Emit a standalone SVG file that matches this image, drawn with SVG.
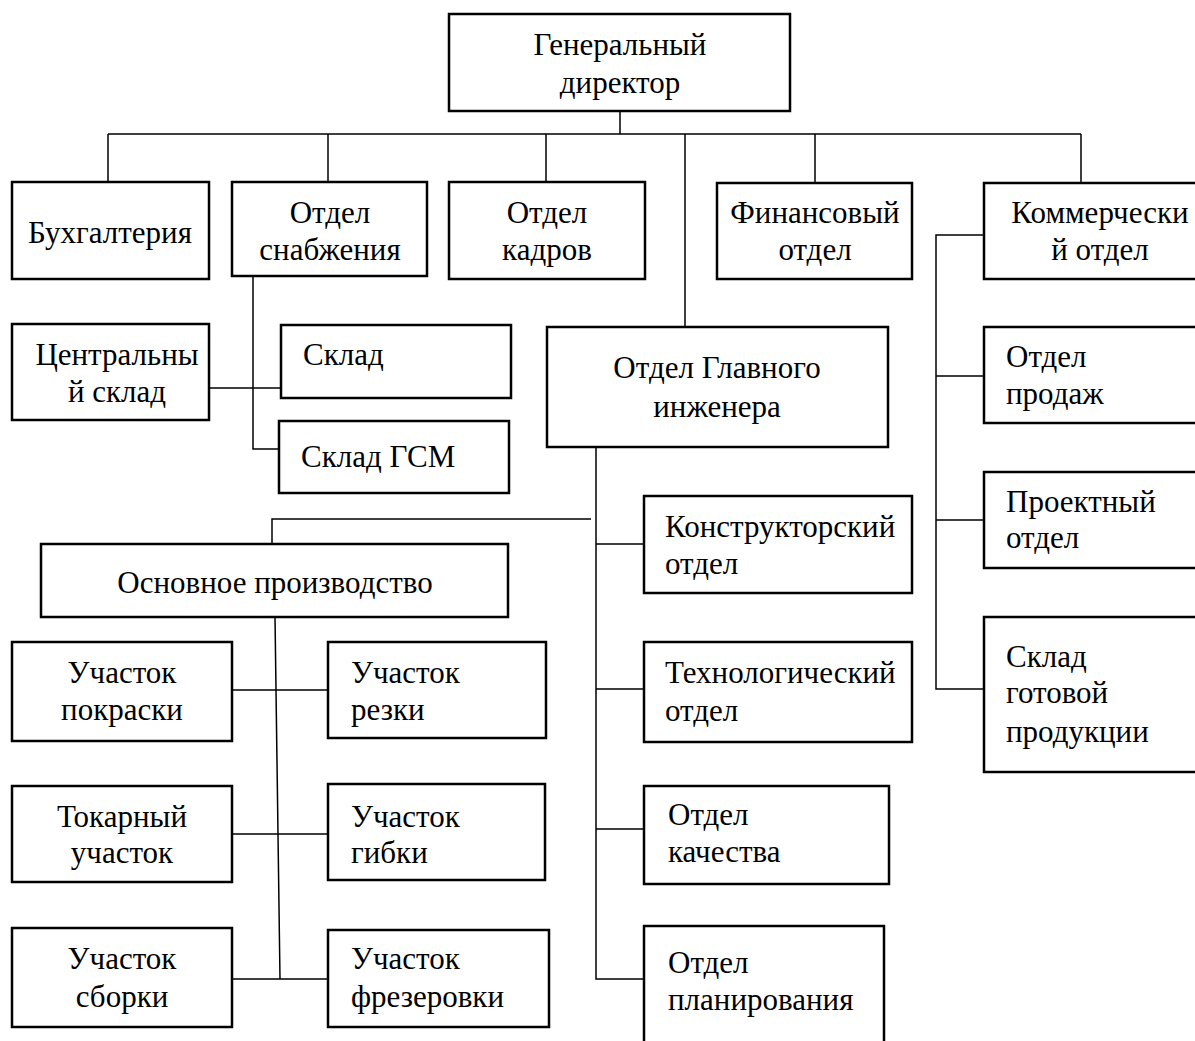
<svg xmlns="http://www.w3.org/2000/svg" width="1195" height="1041" viewBox="0 0 1195 1041">
<style>
.b{fill:#fff;stroke:#000;stroke-width:2.5}
.c{fill:none;stroke:#000;stroke-width:1.5}
text{font-family:"Liberation Serif","Times New Roman",serif;font-size:31px;fill:#000}
.m{text-anchor:middle}
</style>
<rect width="1195" height="1041" fill="#fff"/>
<g id="connectors" class="c">
<path d="M620 111V134M108 134H1081M108 134V182M328 134V182M546 134V182M685 134V327M815 134V183M1081 134V183"/>
<path d="M253 276V449H279M209 388H281"/>
<path d="M591 519H272V544"/>
<path d="M275 617L280 979M232 690H328M232 834H328M232 979H328"/>
<path d="M596 447V979H644M596 544H644M596 689H644M596 829H644"/>
<path d="M984 235H936V689H984M936 376H984M936 520H984"/>
</g>
<g id="gd"><rect class="b" x="449" y="14" width="341" height="97"/><text class="m" x="620" y="55">Генеральный</text><text class="m" x="620" y="93">директор</text></g>
<g id="buh"><rect class="b" x="12" y="182" width="197" height="97"/><text class="m" x="110" y="243">Бухгалтерия</text></g>
<g id="snab"><rect class="b" x="232" y="182" width="195" height="94"/><text class="m" x="330" y="223">Отдел</text><text class="m" x="330" y="260">снабжения</text></g>
<g id="kadry"><rect class="b" x="449" y="182" width="196" height="97"/><text class="m" x="547" y="223">Отдел</text><text class="m" x="547" y="260">кадров</text></g>
<g id="fin"><rect class="b" x="717" y="183" width="195" height="96"/><text class="m" x="815" y="223">Финансовый</text><text class="m" x="815" y="260">отдел</text></g>
<g id="komm"><rect class="b" x="984" y="183" width="230" height="96"/><text class="m" x="1100" y="223">Коммерчески</text><text class="m" x="1100" y="260">й отдел</text></g>
<g id="centr"><rect class="b" x="12" y="324" width="197" height="96"/><text class="m" x="117" y="365">Центральны</text><text class="m" x="117" y="402">й склад</text></g>
<g id="sklad"><rect class="b" x="281" y="325" width="230" height="73"/><text x="303" y="365">Склад</text></g>
<g id="gsm"><rect class="b" x="279" y="421" width="230" height="72"/><text x="301" y="467">Склад ГСМ</text></g>
<g id="gi"><rect class="b" x="547" y="327" width="341" height="120"/><text class="m" x="717" y="378">Отдел Главного</text><text class="m" x="717" y="417">инженера</text></g>
<g id="osn"><rect class="b" x="41" y="544" width="467" height="73"/><text class="m" x="275" y="593">Основное производство</text></g>
<g id="konstr"><rect class="b" x="644" y="496" width="268" height="97"/><text x="665" y="537">Конструкторский</text><text x="665" y="574">отдел</text></g>
<g id="tehn"><rect class="b" x="644" y="642" width="268" height="100"/><text x="665" y="683">Технологический</text><text x="665" y="721">отдел</text></g>
<g id="kach"><rect class="b" x="644" y="786" width="245" height="98"/><text x="668" y="825">Отдел</text><text x="668" y="862">качества</text></g>
<g id="plan"><rect class="b" x="644" y="926" width="240" height="130"/><text x="668" y="973">Отдел</text><text x="668" y="1010">планирования</text></g>
<g id="prod"><rect class="b" x="984" y="327" width="230" height="96"/><text x="1006" y="367">Отдел</text><text x="1006" y="404">продаж</text></g>
<g id="proekt"><rect class="b" x="984" y="472" width="230" height="96"/><text x="1006" y="512">Проектный</text><text x="1006" y="548">отдел</text></g>
<g id="gotov"><rect class="b" x="984" y="617" width="230" height="155"/><text x="1006" y="667">Склад</text><text x="1006" y="703">готовой</text><text x="1006" y="742">продукции</text></g>
<g id="pokr"><rect class="b" x="12" y="642" width="220" height="99"/><text class="m" x="122" y="683">Участок</text><text class="m" x="122" y="720">покраски</text></g>
<g id="rezki"><rect class="b" x="328" y="642" width="218" height="96"/><text x="351" y="683">Участок</text><text x="351" y="720">резки</text></g>
<g id="tokar"><rect class="b" x="12" y="786" width="220" height="96"/><text class="m" x="122" y="827">Токарный</text><text class="m" x="122" y="863">участок</text></g>
<g id="gibki"><rect class="b" x="328" y="784" width="217" height="96"/><text x="351" y="827">Участок</text><text x="351" y="863">гибки</text></g>
<g id="sbor"><rect class="b" x="12" y="928" width="220" height="99"/><text class="m" x="122" y="969">Участок</text><text class="m" x="122" y="1007">сборки</text></g>
<g id="frez"><rect class="b" x="328" y="930" width="221" height="97"/><text x="351" y="969">Участок</text><text x="351" y="1007">фрезеровки</text></g>
</svg>
